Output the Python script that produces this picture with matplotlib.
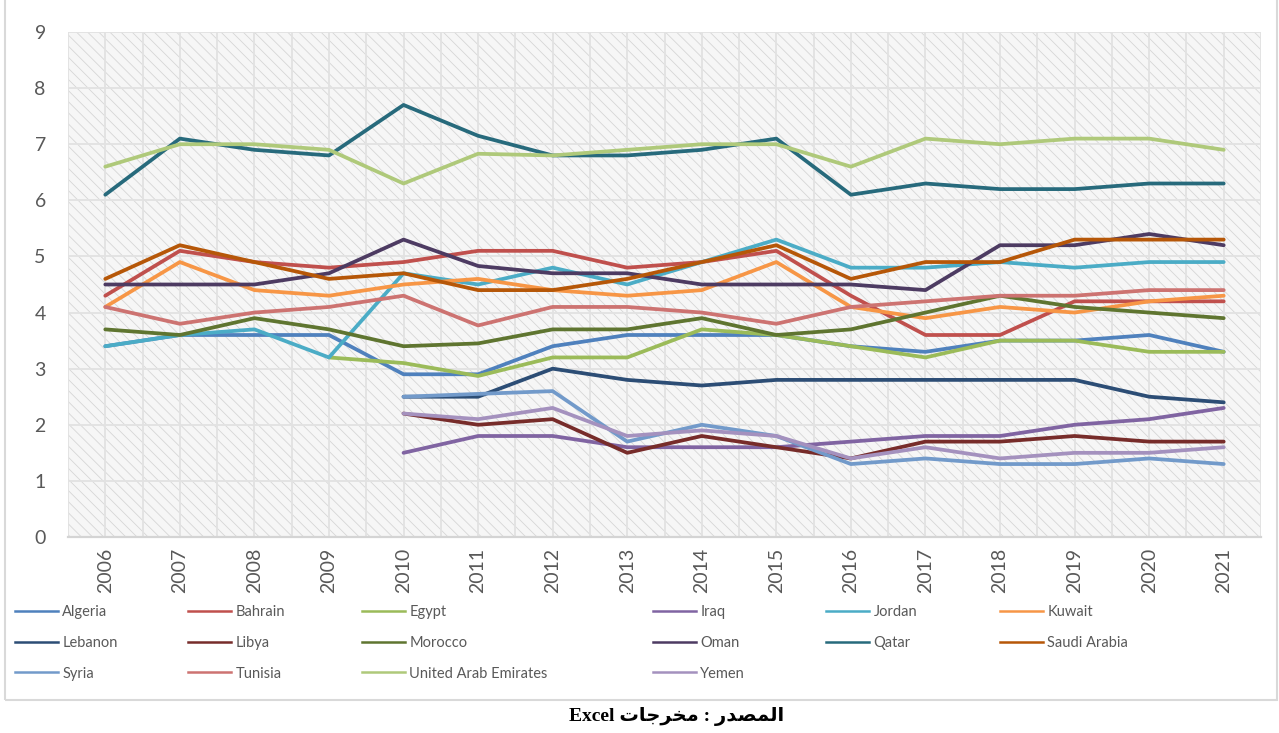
import numpy as np
import matplotlib
matplotlib.use('Agg')
import matplotlib.pyplot as plt
from matplotlib.patches import Rectangle
from matplotlib.lines import Line2D

nan = np.nan
years = [str(y) for y in range(2006, 2022)]

countries = ['Algeria', 'Bahrain', 'Egypt', 'Iraq', 'Jordan', 'Kuwait',
             'Lebanon', 'Libya', 'Morocco', 'Oman', 'Qatar', 'Saudi Arabia',
             'Syria', 'Tunisia', 'United Arab Emirates', 'Yemen']
colors = ['#4F81BD', '#C0504D', '#9BBB59', '#8064A2', '#4BACC6', '#F79646',
          '#2C4D75', '#772C2A', '#5F7530', '#4D3B62', '#276A7C', '#B65708',
          '#729ACA', '#CD7371', '#AFC97A', '#A491BE']

algeria = [3.4, 3.6, 3.6, 3.6, 2.9, 2.9, 3.4, 3.6, 3.6, 3.6, 3.4, 3.3, 3.5, 3.5, 3.6, 3.3]
bahrain = [4.3, 5.1, 4.9, 4.8, 4.9, 5.1, 5.1, 4.8, 4.9, 5.1, 4.3, 3.6, 3.6, 4.2, 4.2, 4.2]
egypt = [nan, nan, nan, 3.2, 3.1, 2.87, 3.2, 3.2, 3.7, 3.6, 3.4, 3.2, 3.5, 3.5, 3.3, 3.3]
iraq = [nan, nan, nan, nan, 1.5, 1.8, 1.8, 1.6, 1.6, 1.6, 1.7, 1.8, 1.8, 2.0, 2.1, 2.3]
jordan = [3.4, 3.6, 3.7, 3.2, 4.7, 4.5, 4.8, 4.5, 4.9, 5.3, 4.8, 4.8, 4.9, 4.8, 4.9, 4.9]
kuwait = [4.1, 4.9, 4.4, 4.3, 4.5, 4.6, 4.4, 4.3, 4.4, 4.9, 4.1, 3.9, 4.1, 4.0, 4.2, 4.3]
lebanon = [nan, nan, nan, nan, 2.5, 2.5, 3.0, 2.8, 2.7, 2.8, 2.8, 2.8, 2.8, 2.8, 2.5, 2.4]
libya = [nan, nan, nan, nan, 2.2, 2.0, 2.1, 1.5, 1.8, 1.6, 1.4, 1.7, 1.7, 1.8, 1.7, 1.7]
morocco = [3.7, 3.6, 3.9, 3.7, 3.4, 3.45, 3.7, 3.7, 3.9, 3.6, 3.7, 4.0, 4.3, 4.1, 4.0, 3.9]
oman = [4.5, 4.5, 4.5, 4.7, 5.3, 4.83, 4.7, 4.7, 4.5, 4.5, 4.5, 4.4, 5.2, 5.2, 5.4, 5.2]
qatar = [6.1, 7.1, 6.9, 6.8, 7.7, 7.15, 6.8, 6.8, 6.9, 7.1, 6.1, 6.3, 6.2, 6.2, 6.3, 6.3]
saudi = [4.6, 5.2, 4.9, 4.6, 4.7, 4.4, 4.4, 4.6, 4.9, 5.2, 4.6, 4.9, 4.9, 5.3, 5.3, 5.3]
syria = [nan, nan, nan, nan, 2.5, 2.55, 2.6, 1.7, 2.0, 1.8, 1.3, 1.4, 1.3, 1.3, 1.4, 1.3]
tunisia = [4.1, 3.8, 4.0, 4.1, 4.3, 3.77, 4.1, 4.1, 4.0, 3.8, 4.1, 4.2, 4.3, 4.3, 4.4, 4.4]
uae = [6.6, 7.0, 7.0, 6.9, 6.3, 6.83, 6.8, 6.9, 7.0, 7.0, 6.6, 7.1, 7.0, 7.1, 7.1, 6.9]
yemen = [nan, nan, nan, nan, 2.2, 2.1, 2.3, 1.8, 1.9, 1.8, 1.4, 1.6, 1.4, 1.5, 1.5, 1.6]

series = [algeria, bahrain, egypt, iraq, jordan, kuwait, lebanon, libya,
          morocco, oman, qatar, saudi, syria, tunisia, uae, yemen]

plt.rcParams['font.family'] = ['Lato', 'DejaVu Sans']
plt.rcParams['hatch.linewidth'] = 0.6
txt = '#595959'
grid = '#e2e2e2'

fig = plt.figure(figsize=(12.79, 7.33), dpi=100)
ax = fig.add_axes([68/1279, 1-537/733, (1261-68)/1279, (537-32)/733])

# hatched plot area
ax.add_patch(Rectangle((0, 0), 1, 1, transform=ax.transAxes, facecolor='#f6f6f6',
                       edgecolor='#d6d6d6', hatch='\\\\\\', lw=0, zorder=0))

x = np.arange(len(years))
for name, vals, c in zip(countries, series, colors):
    ax.plot(x, vals, color=c, lw=2.7, solid_capstyle='round',
            solid_joinstyle='round', zorder=3)

ax.set_xlim(-0.5, len(years) - 0.5)
ax.set_ylim(0, 9)
ax.set_xticks(x, years, rotation=90)
ax.set_xticks(np.arange(-0.5, len(years), 1), minor=True)
ax.set_yticks(range(10))
ax.set_axisbelow(True)
ax.grid(which='both', axis='x', color=grid, lw=1.3, zorder=1)
ax.grid(which='major', axis='y', color=grid, lw=1.3, zorder=1)
ax.tick_params(axis='x', which='both', length=0, pad=8, labelsize=14, labelcolor=txt)
ax.tick_params(axis='y', length=0, pad=16, labelsize=14, labelcolor=txt)
for s in ['top', 'right', 'left']:
    ax.spines[s].set_visible(False)
ax.spines['bottom'].set_color('#d4d4d4')
ax.spines['bottom'].set_linewidth(1.6)

# chart area border
fig.add_artist(Rectangle((5/1279, 1-700/733), 1272/1279, 700/733 + 0.01,
                         transform=fig.transFigure, fill=False,
                         edgecolor='#d9d9d9', lw=1.5))

# legend, laid out in rows of six like Excel
ncol = 6
col_x = [15, 188, 362, 653, 826, 1000]
handles = [Line2D([], [], color=c, lw=1.8) for c in colors]
for c in range(ncol):
    idx = list(range(c, len(countries), ncol))
    leg = fig.legend([handles[i] for i in idx], [countries[i] for i in idx],
                     loc='upper left', bbox_to_anchor=(col_x[c]/1279, 1-605/733),
                     frameon=False, fontsize=10.5, borderpad=0, borderaxespad=0,
                     handlelength=2.95, handletextpad=0.3, labelspacing=1.15,
                     labelcolor=txt)

# source line (Arabic in presentation forms, visual order)
mkhrjat = '\uFE95\uFE8E\uFE9F\uFEAE\uFEA8\uFEE3'
masdar = '\uFEAD\uFEAA\uFEBC\uFEE4\uFEDF\uFE8D'
fig.text(677/1279, 1-716/733, 'Excel ' + mkhrjat + ' : ' + masdar,
         ha='center', va='center', fontsize=14, fontweight='bold',
         family=['Liberation Serif', 'DejaVu Sans'], color='black')

fig.savefig('out.png', dpi=100)
